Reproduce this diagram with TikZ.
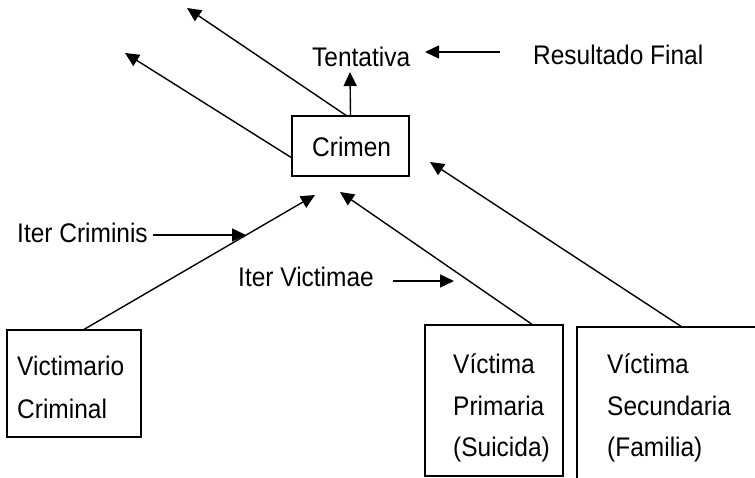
\documentclass[tikz,border=0pt]{standalone}
\usepackage{fontspec}
\setmainfont{Liberation Sans}
\usetikzlibrary{arrows.meta}
\newcommand\stretchtxt[1]{\scalebox{1.02}[1.12]{#1}}
\begin{document}
\begin{tikzpicture}[x=1pt,y=-1pt,
  lbl/.style={anchor=base west,inner sep=0pt,font=\fontsize{24}{28}\selectfont},
  conn/.style={line width=1.4pt,-{Triangle[length=14pt,width=13pt]}},
  boxline/.style={line width=1.2pt}]
\useasboundingbox (0,0) rectangle (755,478);
% boxes
\node[draw,boxline,minimum width=117pt,minimum height=60pt,inner sep=0pt] (crimen) at (350.5,146) {};
\node[lbl] (crimentxt) at (312,157) {\stretchtxt{Crimen}};
\node[draw,boxline,minimum width=134pt,minimum height=107pt,inner sep=0pt] (victimario) at (74,383.5) {};
\node[lbl] (vt1) at (17,375) {\stretchtxt{Victimario}};
\node[lbl] (vt2) at (17,418) {\stretchtxt{Criminal}};
\node[draw,boxline,minimum width=138pt,minimum height=151pt,inner sep=0pt] (primaria) at (494,400.5) {};
\node[lbl] (pt1) at (453,373) {\stretchtxt{Víctima}};
\node[lbl] (pt2) at (453,415) {\stretchtxt{Primaria}};
\node[lbl] (pt3) at (453,456) {\stretchtxt{(Suicida)}};
\coordinate (secTL) at (577,327);
\coordinate (secBL) at (577,478);
\coordinate (secTR) at (755,327);
\draw[boxline] (secBL) -- (secTL) -- (secTR);
\node[lbl] (st1) at (607,373) {\stretchtxt{Víctima}};
\node[lbl] (st2) at (607,415) {\stretchtxt{Secundaria}};
\node[lbl] (st3) at (607,456) {\stretchtxt{(Familia)}};
% labels
\node[lbl] (tent) at (312,67) {\stretchtxt{Tentativa}};
\node[lbl] (result) at (533,65) {\stretchtxt{Resultado Final}};
\node[lbl] (icrim) at (17,243) {\stretchtxt{Iter Criminis}};
\node[lbl] (ivict) at (238,287) {\stretchtxt{Iter Victimae}};
% free ends
\coordinate (tentTip) at (350,72);
\coordinate (c1s) at (347,116);
\coordinate (c1t) at (187,8);
\coordinate (c2s) at (292,158);
\coordinate (c2t) at (125,53);
\coordinate (rs) at (500,52);
\coordinate (rt) at (425,52);
\coordinate (ics) at (153,235);
\coordinate (ict) at (246,235);
\coordinate (vs) at (83,330);
\coordinate (vtip) at (315,195);
\coordinate (ivs) at (393,281);
\coordinate (ivt) at (454,281);
\coordinate (ps) at (533,325);
\coordinate (ptip) at (340,192);
\coordinate (ss) at (682,327);
\coordinate (stip) at (430,162);
% connectors
\draw[conn] (crimen.north) -- (tentTip);
\draw[conn] (c1s) -- (c1t);
\draw[conn] (c2s) -- (c2t);
\draw[conn] (rs) -- (rt);
\draw[conn] (ics) -- (ict);
\draw[conn] (vs) -- (vtip);
\draw[conn] (ivs) -- (ivt);
\draw[conn] (ps) -- (ptip);
\draw[conn] (ss) -- (stip);
\end{tikzpicture}
\end{document}
